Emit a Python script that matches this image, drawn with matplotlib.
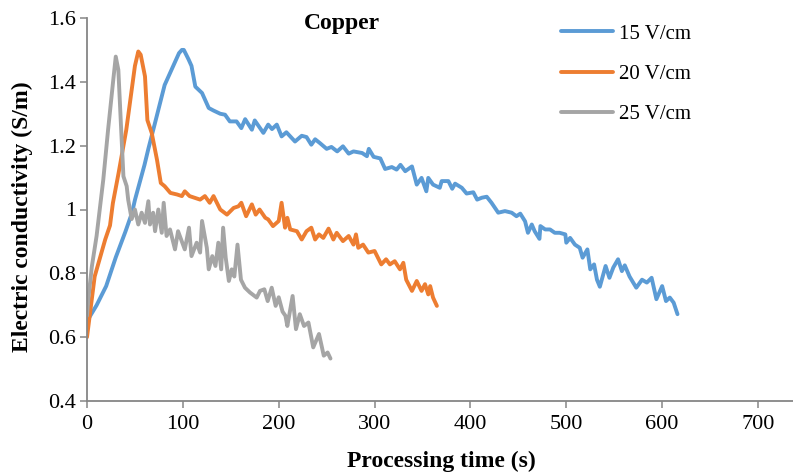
import matplotlib
matplotlib.use("Agg")
from matplotlib import pyplot as plt

plt.rcParams['font.family'] = ['Liberation Serif', 'DejaVu Serif']

# 15 V/cm
t15 = [0, 10, 20, 30, 40, 47, 50, 60, 64, 70, 81, 90, 96, 99, 101, 106, 109, 113, 120,
       127, 132, 139, 144, 149, 156, 161, 165, 172, 175, 184, 189, 193, 198, 203, 208,
       217, 224, 229, 234, 238, 243, 250, 255, 261, 267, 273, 278, 287, 292, 294, 299,
       306, 311, 318, 323, 327, 332, 339, 344, 349, 354, 356, 361, 368, 370, 377, 381,
       384, 391, 396, 403, 407, 412, 417, 422, 429, 436, 443, 448, 452, 457, 460, 464,
       467, 472, 473, 478, 483, 488, 493, 499, 500, 504, 509, 514, 517, 522, 525, 529,
       532, 535, 541, 545, 549, 554, 558, 561, 566, 573, 579, 584, 589, 594, 600, 604,
       608, 612, 616]
y15 = [0.65, 0.70, 0.76, 0.85, 0.93, 0.99, 1.03, 1.14, 1.19, 1.26, 1.39, 1.45, 1.49, 1.50,
       1.50, 1.47, 1.45, 1.385, 1.365, 1.318, 1.31, 1.30, 1.297, 1.276, 1.276, 1.255,
       1.283, 1.25, 1.279, 1.24, 1.266, 1.252, 1.266, 1.229, 1.242, 1.213, 1.231, 1.227,
       1.203, 1.22, 1.208, 1.19, 1.196, 1.182, 1.198, 1.175, 1.182, 1.177, 1.167, 1.19,
       1.165, 1.16, 1.127, 1.133, 1.125, 1.14, 1.12, 1.135, 1.078, 1.099, 1.057, 1.099,
       1.078, 1.068, 1.089, 1.089, 1.065, 1.081, 1.068, 1.05, 1.054, 1.031, 1.037, 1.04,
       1.021, 0.99, 0.995, 0.99, 0.979, 0.987, 0.963, 0.927, 0.953, 0.932, 0.908, 0.948,
       0.9375, 0.9375, 0.927, 0.927, 0.922, 0.896, 0.911, 0.89, 0.88, 0.849, 0.875,
       0.8125, 0.828, 0.78, 0.758, 0.823, 0.786, 0.818, 0.844, 0.807, 0.825, 0.79, 0.755,
       0.78, 0.771, 0.786, 0.719, 0.76, 0.713, 0.724, 0.708, 0.672]

# 20 V/cm
t20 = [0, 8, 19, 24, 27, 33, 41, 50, 53.5, 56, 60.5, 63, 67.5, 73, 77, 81, 87, 94, 99,
       102, 107, 118, 123, 128, 132, 139, 146, 153, 158, 161, 166, 172, 176, 180, 186,
       189, 194, 200, 203, 206.6, 209, 212, 219, 224, 229, 234, 238, 242, 246.5, 252,
       257, 260.5, 267, 273, 278, 280.6, 283, 288, 293.5, 300, 307, 312, 316, 321, 326.5,
       330, 333, 339, 344, 349, 352.6, 356, 358, 361, 365]
y20 = [0.60, 0.79, 0.906, 0.95, 1.02, 1.115, 1.25, 1.45, 1.495, 1.485, 1.417, 1.28, 1.24,
       1.156, 1.083, 1.073, 1.052, 1.047, 1.042, 1.057, 1.042, 1.031, 1.042, 1.021,
       1.042, 1.0, 0.984, 1.005, 1.01, 1.021, 0.979, 1.016, 0.984, 1.0, 0.974, 0.969,
       0.948, 0.964, 1.021, 0.943, 0.974, 0.9375, 0.932, 0.906, 0.932, 0.943, 0.906,
       0.922, 0.911, 0.94, 0.906, 0.927, 0.901, 0.917, 0.89, 0.922, 0.88, 0.89, 0.865,
       0.87, 0.828, 0.844, 0.828, 0.838, 0.8125, 0.833, 0.78, 0.745, 0.776, 0.745, 0.766,
       0.734, 0.76, 0.724, 0.698]

# 25 V/cm
t25 = [0, 1.4, 5, 10, 17, 22, 27.4, 30, 32.7, 35.5, 38, 41.4, 43, 46.6, 50, 53.5, 57,
       60.5, 64, 65.7, 69, 71, 74.4, 78, 80, 83, 86.6, 91.8, 95, 98.8, 102, 106.4, 109,
       114.4, 118, 120, 125, 127, 130.7, 134, 137, 140, 142, 144.7, 148, 151, 153.7, 157,
       160.6, 164.8, 170, 177, 180.5, 185, 188.5, 192.7, 196.8, 200, 204, 207, 209,
       214.5, 218, 222, 226.4, 231, 236, 242, 247, 251, 254]
y25 = [0.667, 0.72, 0.82, 0.917, 1.094, 1.25, 1.406, 1.479, 1.4375, 1.26, 1.104, 1.073,
       1.03, 0.97, 1.0, 0.953, 0.99, 0.958, 1.026, 0.953, 0.99, 0.932, 1.0, 0.927, 1.021,
       0.917, 0.9375, 0.875, 0.932, 0.901, 0.875, 0.943, 0.854, 0.896, 0.865, 0.964,
       0.88, 0.8125, 0.854, 0.823, 0.896, 0.8125, 0.943, 0.849, 0.776, 0.8125, 0.79,
       0.89, 0.78, 0.755, 0.74, 0.724, 0.745, 0.75, 0.713, 0.755, 0.698, 0.725, 0.68,
       0.667, 0.635, 0.729, 0.625, 0.672, 0.635, 0.646, 0.568, 0.61, 0.542, 0.552, 0.533]

fig = plt.figure(figsize=(7.93, 4.76), dpi=100)
ax = fig.add_axes([87 / 793, 1 - 401 / 476, 1 - 87 / 793, (401 - 18) / 476])

ax.plot(t15, y15, color='#5B9BD5', lw=2.8, label='15 V/cm', solid_capstyle='round')
ax.plot(t20, y20, color='#ED7D31', lw=2.8, label='20 V/cm', solid_capstyle='round')
ax.plot(t25, y25, color='#A5A5A5', lw=2.8, label='25 V/cm', solid_capstyle='round')

ax.set_xlim(0, 736.5)
ax.set_ylim(0.4, 1.6)
ax.set_xticks(range(0, 800, 100))
ax.set_yticks([0.4, 0.6, 0.8, 1.0, 1.2, 1.4, 1.6])
ax.set_yticklabels(['0.4', '0.6', '0.8', '1', '1.2', '1.4', '1.6'])

for s in ['top', 'right']:
    ax.spines[s].set_visible(False)
for s in ['left', 'bottom']:
    ax.spines[s].set_color('#868686')
    ax.spines[s].set_linewidth(1.3)
ax.tick_params(direction='out', length=5, width=1.1, color='#868686',
               labelsize=16, labelcolor='black')
ax.tick_params(axis='x', pad=5)
ax.tick_params(axis='y', pad=3)

fig.text(441 / 793, 1 - 461 / 476, 'Processing time (s)', ha='center', va='center',
         fontsize=17, fontweight='bold')
fig.text(22 / 793, 1 - 217 / 476, 'Electric conductivity (S/m)', ha='center',
         va='center', rotation=90, fontsize=17, fontweight='bold')
fig.text(342 / 793, 1 - 24 / 476, 'Copper', ha='center', va='center',
         fontsize=17, fontweight='bold')

ax.legend(loc='upper left', bbox_to_anchor=(561 / 793, 1 - 24 / 476),
          bbox_transform=fig.transFigure, frameon=False, fontsize=15,
          borderpad=0, borderaxespad=0, handlelength=2.5, handletextpad=0.3,
          labelspacing=1.0)

fig.savefig('out.png', dpi=100)
